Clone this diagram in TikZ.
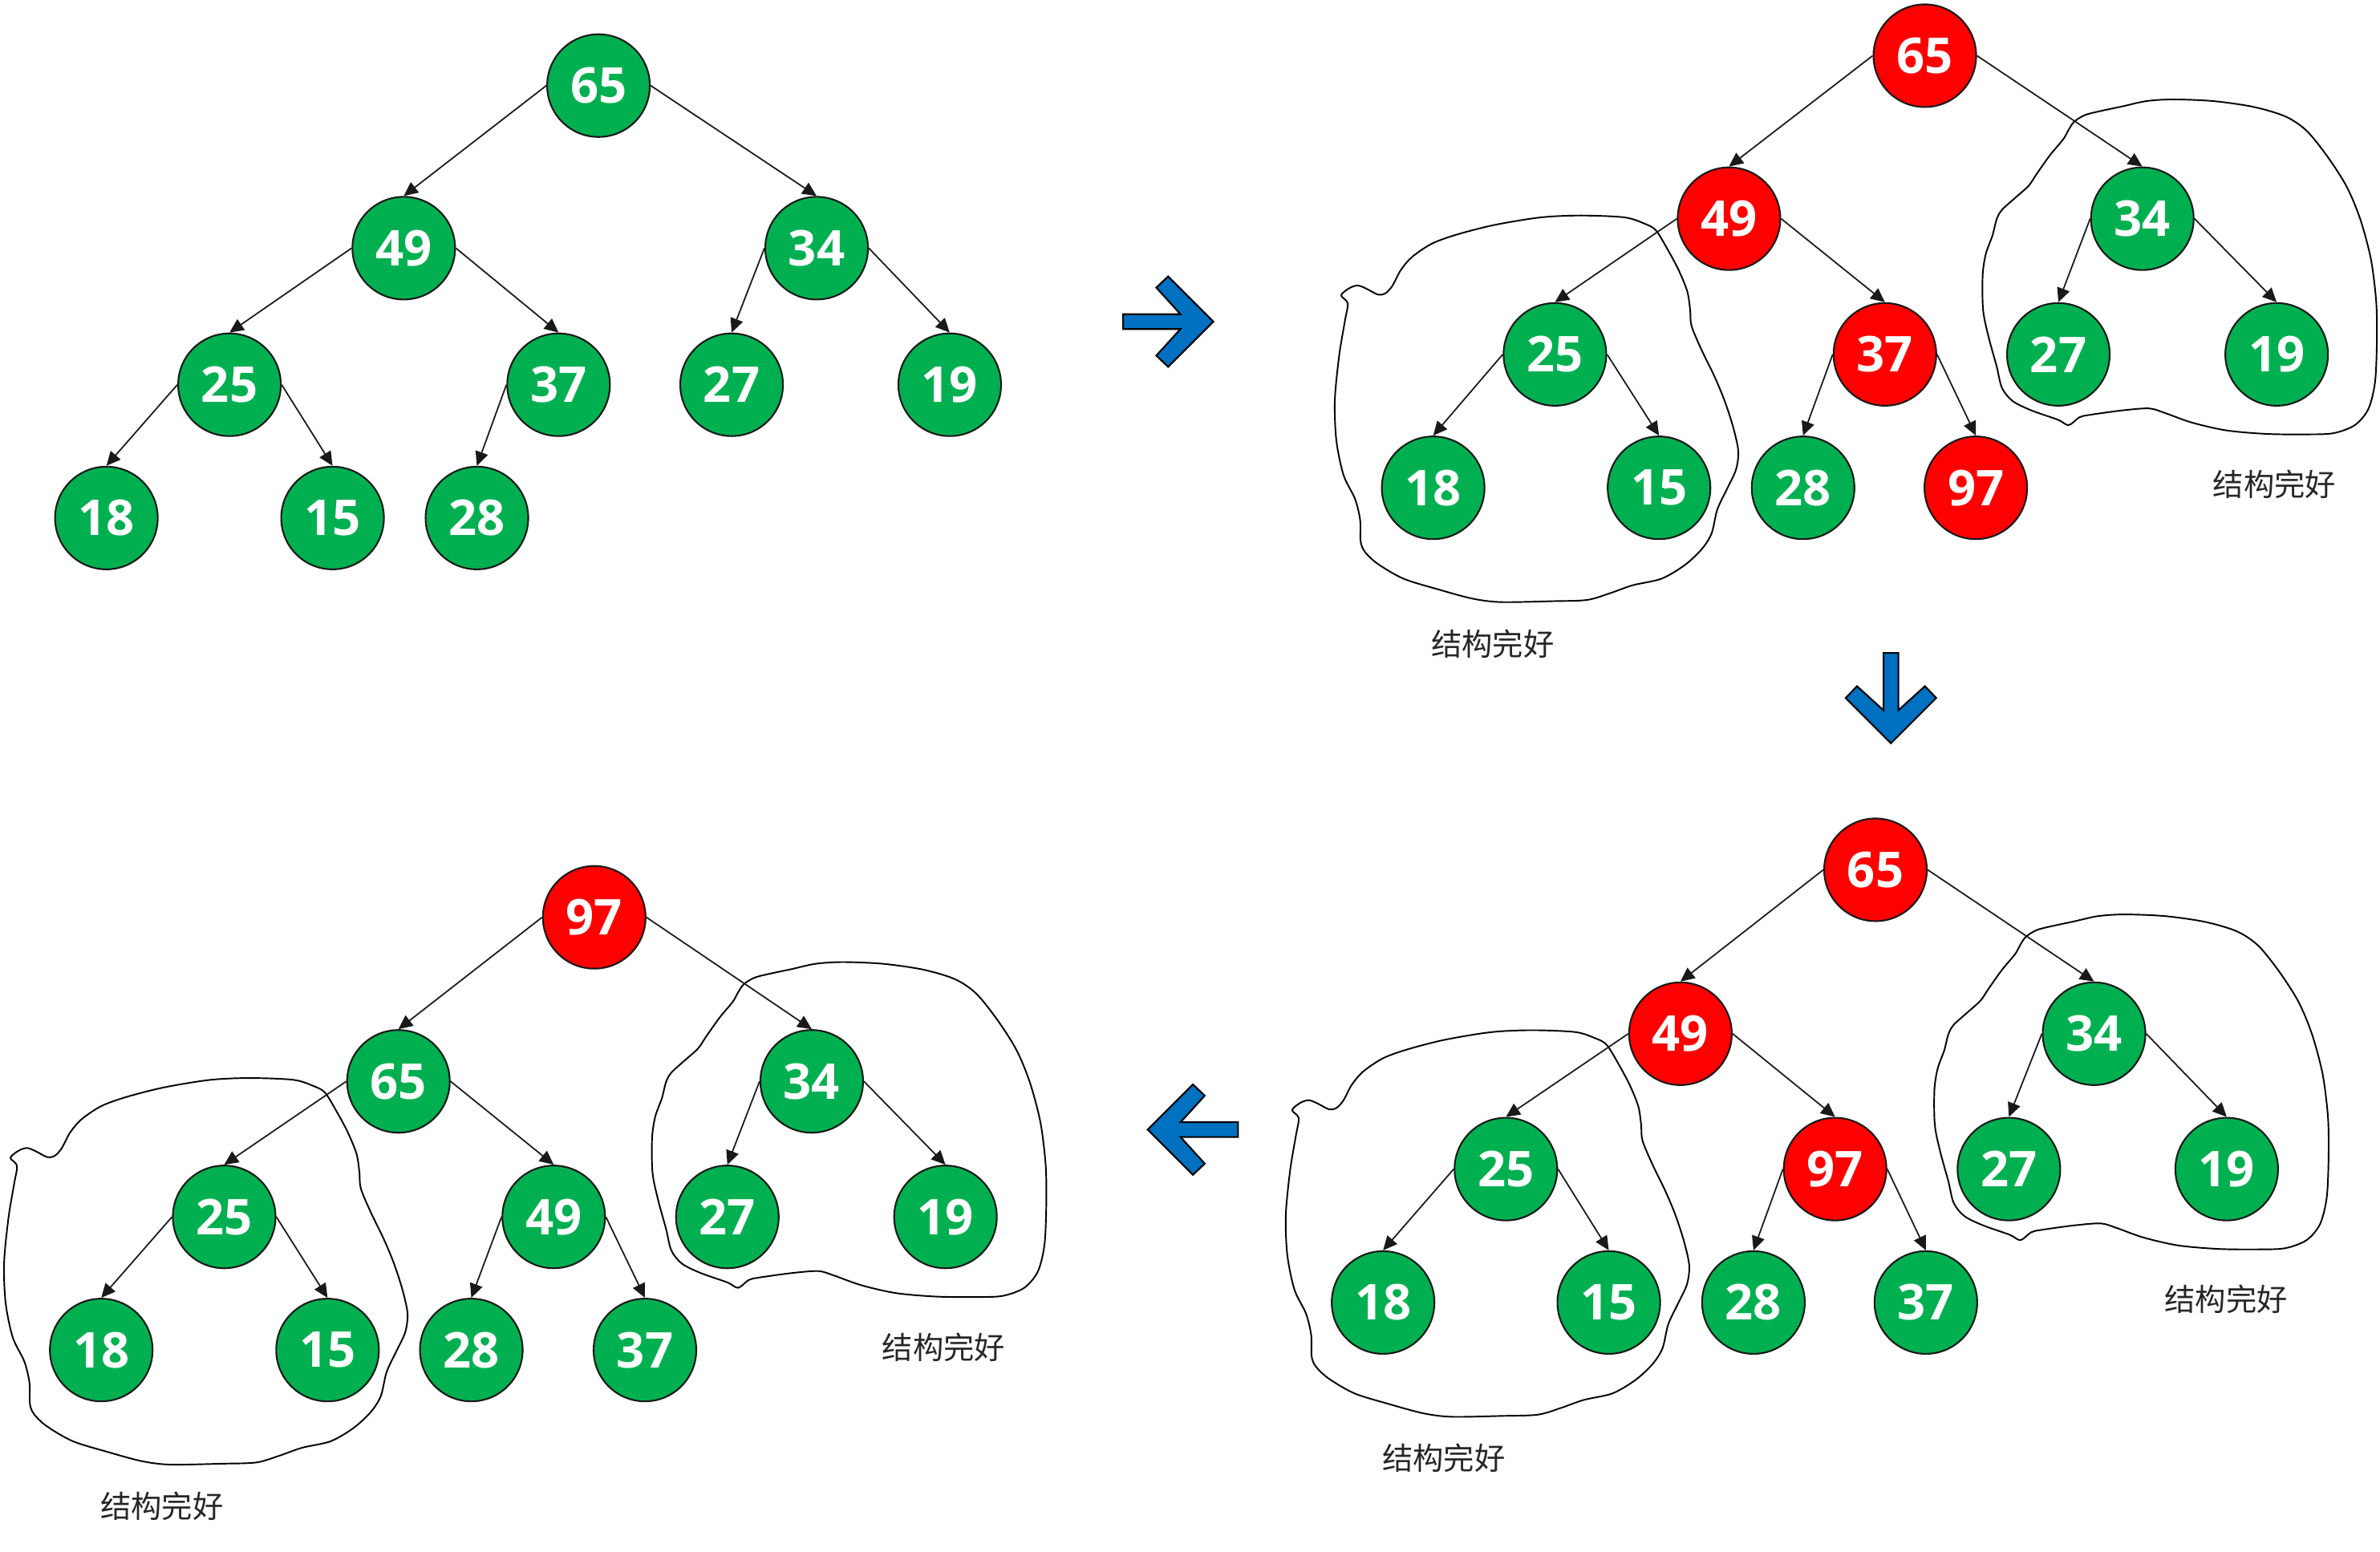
\documentclass[tikz,border=0pt]{standalone}
\usepackage{fontspec}
\setmainfont{Open Sans}
\newfontfamily\cjkfont{Noto Sans CJK SC}
\usetikzlibrary{arrows.meta}
\definecolor{heapgreen}{HTML}{00B050}
\definecolor{heapred}{HTML}{FF0000}
\definecolor{stepblue}{HTML}{0070C0}

\newcommand{\leftloop}{plot[smooth cycle,tension=0.5] coordinates {
  (-140.8,-38.9) (-136.5,-33.7) (-138.3,-22.3) (-142.1,0.5) (-145,30.3) (-144,56.6)
  (-139.3,79.4) (-131.7,95.2) (-128.3,109.2) (-128,123.2) (-125.1,130.2) (-116.6,138.1)
  (-99.7,147.8) (-77,154.8) (-54.4,160.9) (-35.5,163.2) (-1.5,162.6) (21.1,161.8)
  (36.2,157.4) (51.3,152.1) (70.2,147.8) (85.3,139) (96.6,128.5) (103.2,118)
  (107,102.2) (113.6,88.2) (119.3,75.9) (120.8,63.6) (117.4,47.8) (111.7,30.3)
  (105.1,14.5) (96.6,-3) (90,-18.8) (89.1,-29.3) (87.2,-41.5) (81.5,-55.6)
  (74,-69.6) (66.4,-81.9) (58.9,-86.2) (45.7,-90.3) (17.4,-91.5) (-9.1,-90.3)
  (-39.3,-85.4) (-63.8,-79.2) (-80.8,-73.1) (-94,-64.3) (-101.5,-55.6) (-107.2,-45)
  (-111.9,-40.1) (-116.6,-39.4) (-124.2,-43.3) (-129.9,-45.4) (-135.5,-43.6)}}
\newcommand{\rightloop}{plot[smooth cycle,tension=0.5] coordinates {
  (-44.9,-63.9) (-37.8,-68.3) (-27.3,-71) (-13.2,-74) (2.7,-77.5) (20.3,-78.6)
  (46.7,-77.5) (73.1,-73.7) (94.2,-67.4) (108.4,-57.8) (122.5,-40.2) (134.8,-20.8)
  (143.6,0.4) (150.6,26.7) (154.1,55) (154.5,81.4) (153.3,107.8) (148.9,125.4)
  (140,136) (126,141.3) (108.4,142.1) (82,141.8) (55.5,139.5) (32.6,134.3)
  (14.9,128) (4.4,125) (-13.2,126.3) (-34.3,129.2) (-41.4,130.8) (-48.5,136)
  (-55.5,132.5) (-73.1,126.3) (-85.5,120.1) (-92.5,111.4) (-96,97.2) (-101.3,77.9)
  (-104.9,60.2) (-105.2,37.4) (-103.1,23.2) (-98.7,11) (-96,0.4) (-92.5,-5.8)
  (-83.7,-13.8) (-74.9,-21.7) (-69.6,-29.5) (-60.8,-41.9) (-52,-52.5) (-48.5,-58.7)}}
\newcommand{\bigarrow}{(0,0) -- (-29.8,-29.8) -- (-37.6,-22.4) -- (-21.7,-4.9)
  -- (-59.5,-4.9) -- (-59.5,4.9) -- (-21.7,4.9) -- (-37.6,22.4) -- (-29.8,29.8) -- cycle}

\begin{document}
\begin{tikzpicture}[x=0.018922cm,y=-0.018922cm,
    keynode/.style={circle,draw=black!90,line width=0.6pt,minimum size=1.28cm,inner sep=0pt,
      text=white,font=\bfseries\fontsize{17.5}{20}\selectfont},
    greennode/.style={keynode,fill=heapgreen},
    rednode/.style={keynode,fill=heapred},
    looptext/.style={font=\cjkfont\fontsize{10.9}{13}\selectfont,text=black!85},
    loopline/.style={line width=0.55pt},
    moveline/.style={draw=black,line width=0.6pt,fill=stepblue,line join=miter}]
  \useasboundingbox (0,0) rectangle (1568,1022.1);

  \draw[loopline,shift={(1024.4,233.5)}] \leftloop;
  \draw[loopline,shift={(1411.4,144.1)}] \rightloop;
  \draw[loopline,shift={(992.1,770.3)}] \leftloop;
  \draw[loopline,shift={(1379.6,681.1)}] \rightloop;
  \draw[loopline,shift={(147.7,801.8)}] \leftloop;
  \draw[loopline,shift={(534.8,712.5)}] \rightloop;

  \path
    (394.3,56.4) node[greennode] (a65) {65}
    (266,163.5) node[greennode] (a49) {49}
    (538,163.5) node[greennode] (a34) {34}
    (151.2,253.5) node[greennode] (a25) {25}
    (368,253.5) node[greennode] (a37) {37}
    (482,253.5) node[greennode] (a27) {27}
    (625.7,253.5) node[greennode] (a19) {19}
    (70.1,341.3) node[greennode] (a18) {18}
    (219.1,341.3) node[greennode] (a15) {15}
    (314.2,341.3) node[greennode] (a28) {28};
  \path
    (1268.1,36.7) node[rednode] (b65) {65}
    (1139.1,144.1) node[rednode] (b49) {49}
    (1411.4,144.1) node[greennode] (b34) {34}
    (1024.4,233.5) node[greennode] (b25) {25}
    (1241.8,233.5) node[rednode] (b37) {37}
    (1356.1,233.5) node[greennode] (b27) {27}
    (1499.9,233.5) node[greennode] (b19) {19}
    (944.2,321.4) node[greennode] (b18) {18}
    (1093,321.4) node[greennode] (b15) {15}
    (1187.9,321.4) node[greennode] (b28) {28}
    (1301.7,321.4) node[rednode] (b97) {97};
  \path
    (1235.6,573.1) node[rednode] (c65) {65}
    (1107.1,681.1) node[rednode] (c49) {49}
    (1379.6,681.1) node[greennode] (c34) {34}
    (992.1,770.3) node[greennode] (c25) {25}
    (1209,770.3) node[rednode] (c97) {97}
    (1323.5,770.3) node[greennode] (c27) {27}
    (1467,770.3) node[greennode] (c19) {19}
    (911.2,858.2) node[greennode] (c18) {18}
    (1059.9,858.2) node[greennode] (c15) {15}
    (1155.2,858.2) node[greennode] (c28) {28}
    (1268.8,858.2) node[greennode] (c37) {37};
  \path
    (391.5,604.4) node[rednode] (d97) {97}
    (262.5,712.5) node[greennode] (d65) {65}
    (534.8,712.5) node[greennode] (d34) {34}
    (147.7,801.8) node[greennode] (d25) {25}
    (364.8,801.8) node[greennode] (d49) {49}
    (479.2,801.8) node[greennode] (d27) {27}
    (622.9,801.8) node[greennode] (d19) {19}
    (66.7,889.5) node[greennode] (d18) {18}
    (215.8,889.5) node[greennode] (d15) {15}
    (310.5,889.5) node[greennode] (d28) {28}
    (424.9,889.5) node[greennode] (d37) {37};

  \begin{scope}[-{Triangle[length=5pt,width=4.6pt]},draw=black!90,line width=0.5pt]
    \draw (a65.west) to (a49.north);
    \draw (a65.east) to (a34.north);
    \draw (a49.west) to (a25.north);
    \draw (a49.east) to (a37.north);
    \draw (a34.west) to (a27.north);
    \draw (a34.east) to (a19.north);
    \draw (a25.west) to (a18.north);
    \draw (a25.east) to (a15.north);
    \draw (a37.west) to (a28.north);

    \draw (b65.west) to (b49.north);
    \draw (b65.east) to (b34.north);
    \draw (b49.west) to (b25.north);
    \draw (b49.east) to (b37.north);
    \draw (b34.west) to (b27.north);
    \draw (b34.east) to (b19.north);
    \draw (b25.west) to (b18.north);
    \draw (b25.east) to (b15.north);
    \draw (b37.west) to (b28.north);
    \draw (b37.east) to (b97.north);

    \draw (c65.west) to (c49.north);
    \draw (c65.east) to (c34.north);
    \draw (c49.west) to (c25.north);
    \draw (c49.east) to (c97.north);
    \draw (c34.west) to (c27.north);
    \draw (c34.east) to (c19.north);
    \draw (c25.west) to (c18.north);
    \draw (c25.east) to (c15.north);
    \draw (c97.west) to (c28.north);
    \draw (c97.east) to (c37.north);

    \draw (d97.west) to (d65.north);
    \draw (d97.east) to (d34.north);
    \draw (d65.west) to (d25.north);
    \draw (d65.east) to (d49.north);
    \draw (d34.west) to (d27.north);
    \draw (d34.east) to (d19.north);
    \draw (d25.west) to (d18.north);
    \draw (d25.east) to (d15.north);
    \draw (d49.west) to (d28.north);
    \draw (d49.east) to (d37.north);
  \end{scope}

  \node[looptext] (bleft) at (983.4,424) {结构完好};
  \node[looptext] (bright) at (1498.4,319.1) {结构完好};
  \node[looptext] (cleft) at (951.1,960.8) {结构完好};
  \node[looptext] (cright) at (1466.6,856.1) {结构完好};
  \node[looptext] (dleft) at (106.7,992.3) {结构完好};
  \node[looptext] (dright) at (621.8,887.5) {结构完好};

  \draw[moveline,shift={(799.4,211.9)}] \bigarrow;
  \draw[moveline,shift={(1245.8,489.7)},rotate=-90] \bigarrow;
  \draw[moveline,shift={(756.1,744.3)},rotate=180] \bigarrow;
\end{tikzpicture}
\end{document}
